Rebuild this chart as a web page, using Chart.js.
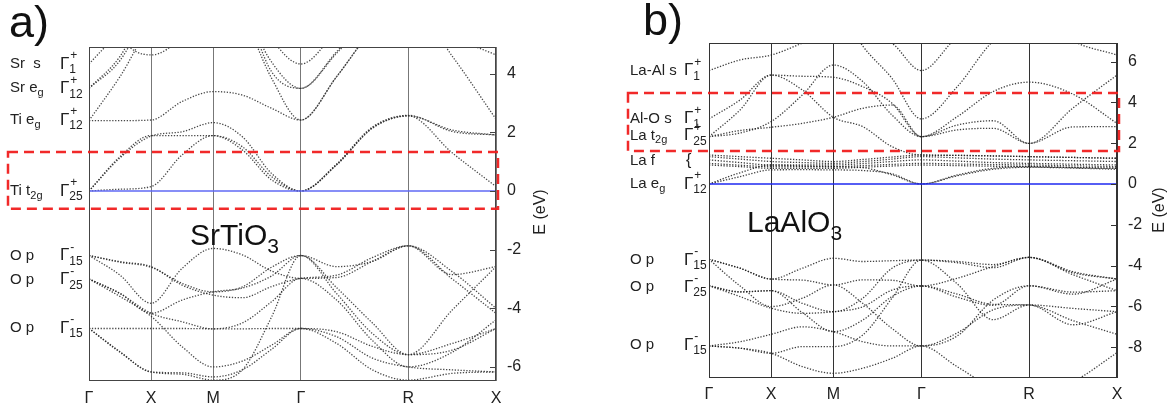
<!DOCTYPE html>
<html>
<head>
<meta charset="utf-8">
<script src="https://cdn.jsdelivr.net/npm/chart.js@4.4.1/dist/chart.umd.min.js"></script>
<style>
  body { margin: 0; background: #fff; width: 1174px; height: 410px; position: relative; overflow: hidden;
         font-family: "Liberation Sans", Arial, sans-serif; color: #111; }
  canvas { position: absolute; top: 0; }
  #chartA { left: 0; }
  #chartB { left: 587px; }
  .tag { position: absolute; font-size: 45px; line-height: 1; }
  .mat { position: absolute; font-size: 30px; line-height: 1; }
  .mat sub { font-size: 21px; vertical-align: -8px; line-height: 0; }
</style>
</head>
<body>
<canvas id="chartA" width="587" height="410"></canvas>
<canvas id="chartB" width="587" height="410"></canvas>
<div class="tag" style="left:9px;top:-1px">a)</div>
<div class="tag" style="left:643px;top:-3px">b)</div>
<div class="mat" style="left:190px;top:220px">SrTiO<sub>3</sub></div>
<div class="mat" style="left:747px;top:207px">LaAlO<sub>3</sub></div>

<script>
// k path Γ-X-M-Γ-R-X (units of 2π/a), sampled at the symmetry points and in between
const kPos = [0, 0.25, 0.5, 0.75, 1.0, 1.236, 1.471, 1.707, 1.996, 2.284, 2.573, 2.927, 3.28];
const kTicks = [0, 0.5, 1.0, 1.707, 2.573, 3.28];
const kNames = ["Γ", "X", "M", "Γ", "R", "X"];

const eTicksA = [-6, -4, -2, 0, 2, 4];
const eTicksB = [-8, -6, -4, -2, 0, 2, 4, 6];
const eRangeA = [-6.48, 4.91];
const eRangeB = [-9.51, 6.91];
const fermiLevel = 0;

// SrTiO3 : O p valence bands (eV)
const staValence = [
  [-2.2, -2.41, -2.58, -3.21, -3.55, -3.64, -3.26, -2.98, -2.87, -2.27, -1.87, -3.0, -4.17],
  [-2.2, -2.43, -2.6, -3.15, -3.44, -3.27, -2.6, -2.2, -2.58, -2.4, -1.87, -2.75, -4.0],
  [-2.2, -2.87, -3.83, -2.64, -1.96, -2.18, -2.73, -2.98, -2.95, -2.4, -1.87, -2.85, -2.58],
  [-3.0, -3.49, -4.17, -3.72, -3.44, -3.31, -2.9, -2.2, -3.3, -4.5, -5.58, -4.06, -2.58],
  [-3.0, -3.6, -4.27, -5.31, -6.0, -5.8, -5.26, -4.69, -4.8, -5.3, -5.58, -5.43, -4.69],
  [-3.0, -3.5, -4.17, -4.46, -4.7, -4.5, -3.78, -2.98, -3.72, -5.1, -6.0, -5.5, -4.4],
  [-4.69, -4.69, -4.69, -4.69, -4.7, -4.7, -4.69, -4.69, -4.97, -5.7, -6.0, -6.1, -6.17],
  [-4.69, -5.48, -6.17, -6.2, -6.34, -6.1, -5.4, -4.69, -5.2, -6.1, -6.45, -6.22, -6.17],
  [-4.69, -5.5, -6.17, -6.25, -6.45, -6.1, -4.3, -2.2, -3.5, -4.86, -5.58, -5.2, -4.69]
];
// SrTiO3 : Ti t2g, Ti eg, Sr bands
const staConduction = [
  [0, 0.06, 0.15, 1.23, 1.89, 1.4, 0.38, 0, 0.89, 2.14, 2.56, 1.3, 0.15],
  [0, 1.17, 1.89, 1.89, 1.89, 1.51, 0.49, 0, 0.9, 2.15, 2.56, 2.08, 1.91],
  [0, 1.13, 1.87, 2.02, 2.33, 1.85, 0.6, 0, 0.92, 2.18, 2.58, 2.03, 1.91],
  [2.4, 2.4, 2.42, 3.05, 3.39, 3.27, 2.82, 2.42, 3.9, 5.5, 6.5, 4.6, 2.45],
  [2.4, 3.9, 5.6, 6.0, 7.0, 6.0, 3.85, 2.42, 3.9, 5.5, 6.5, 5.3, 4.64],
  [3.5, 4.59, 6.5, 7.5, 8, 6.5, 4.07, 3.5, 4.75, 6, 7, 7, 7],
  [3.5, 4.45, 6.3, 7.5, 8, 6.3, 4.4, 3.5, 4.7, 6, 7, 7, 7],
  [4.33, 5.5, 7, 8, 9, 7, 5.2, 4.33, 5.5, 7, 8, 8, 8],
  [8, 5.3, 4.64, 5.3, 7, 8, 8, 8, 8, 8, 8, 8, 8]
];

// LaAlO3 : O p valence bands
const laoValence = [
  [-3.69, -4.13, -4.66, -4.13, -3.64, -3.8, -3.76, -3.73, -3.86, -4.1, -3.6, -4.35, -4.66],
  [-3.69, -4.13, -4.66, -4.71, -4.95, -4.7, -4.72, -5.0, -4.62, -4.05, -3.6, -4.3, -4.66],
  [-3.69, -5.0, -6.01, -5.6, -4.95, -5.85, -7.08, -7.94, -7.3, -6.17, -5.93, -6.9, -6.26],
  [-4.99, -5.28, -5.23, -5.85, -6.26, -5.6, -4.13, -3.73, -3.8, -3.95, -3.6, -4.45, -5.23],
  [-4.99, -5.52, -6.09, -6.34, -6.26, -6.02, -5.2, -5.0, -5.4, -5.9, -5.93, -6.7, -7.37],
  [-4.99, -5.3, -5.23, -6.3, -7.24, -6.67, -5.52, -5.0, -5.55, -5.95, -4.99, -5.3, -5.23],
  [-7.94, -7.73, -7.37, -7.0, -7.24, -7.73, -7.94, -7.94, -7.45, -5.69, -4.99, -5.4, -4.66],
  [-7.94, -8.05, -8.3, -7.97, -7.97, -7.4, -5.6, -3.73, -4.9, -6.65, -5.93, -6.1, -6.26],
  [-7.94, -8.05, -8.3, -8.95, -9.28, -9.03, -8.55, -7.94, -8.96, -10, -10.5, -9.7, -8.27]
];
// LaAlO3 : La f and La eg
const laoLaF = [
  [1.42, 1.34, 1.26, 1.18, 1.1, 1.2, 1.32, 1.42, 1.4, 1.37, 1.34, 1.3, 1.26],
  [1.34, 1.22, 1.1, 1.05, 1.01, 1.1, 1.22, 1.34, 1.28, 1.22, 1.18, 1.14, 1.1],
  [1.18, 1.05, 0.93, 0.93, 0.93, 1.0, 1.1, 1.18, 1.12, 1.05, 1.01, 0.97, 0.93],
  [1.01, 0.92, 0.85, 0.85, 0.85, 0.9, 0.96, 1.01, 0.98, 0.95, 0.93, 0.89, 0.85],
  [0.93, 0.85, 0.77, 0.77, 0.77, 0.82, 0.88, 0.93, 0.9, 0.87, 0.85, 0.81, 0.77],
  [0, 0.36, 0.69, 0.7, 0.69, 0.66, 0.5, 0, 0.44, 0.77, 0.85, 0.8, 0.77],
  [0, 0.55, 0.93, 0.88, 0.85, 0.8, 0.45, 0, 0.4, 0.72, 0.82, 0.78, 0.72]
];
// LaAlO3 : La t2g, Al-O s, La-Al s
const laoConduction = [
  [5.56, 6.08, 6.32, 6.9, 7.5, 7.5, 6.9, 5.56, 7.2, 8, 8.5, 7.0, 6.32],
  [3.19, 4.12, 5.34, 4.61, 3.27, 2.81, 1.83, 1.42, 1.4, 1.38, 1.34, 1.3, 1.26],
  [2.32, 3.63, 5.34, 5.28, 5.23, 4.77, 3.96, 2.32, 2.89, 3.1, 1.99, 2.8, 2.81],
  [2.32, 2.62, 2.78, 2.97, 3.27, 3.71, 3.87, 2.32, 2.65, 2.73, 1.99, 3.73, 5.34],
  [2.32, 2.5, 3.06, 4.36, 5.83, 5.02, 3.38, 2.32, 3.3, 4.53, 4.99, 4.4, 2.97],
  [9, 9, 9, 9, 9, 6.76, 5.18, 3.19, 4.77, 7, 8, 8, 8]
];

// labels at Γ : character, energy, irreducible representation
const staRows = [
  { name: "Sr  s", e: 4.33, g: "1", s: "+" },
  { name: "Sr e", sub: "g", e: 3.5, g: "12", s: "+" },
  { name: "Ti e", sub: "g", e: 2.42, g: "12", s: "+" },
  { name: "Ti t", sub: "2g", e: 0, g: "25", s: "+" },
  { name: "O p", e: -2.2, g: "15", s: "-" },
  { name: "O p", e: -3.02, g: "25", s: "-" },
  { name: "O p", e: -4.67, g: "15", s: "-" }
];
const laoRows = [
  { name: "La-Al s", e: 5.56, g: "1", s: "+" },
  { name: "Al-O s", e: 3.2, g: "1", s: "+" },
  { name: "La t", sub: "2g", e: 2.38, g: "25", s: "+" },
  { name: "La f", e: 1.13, mark: "{" },
  { name: "La e", sub: "g", e: 0, g: "12", s: "+" },
  { name: "O p", e: -3.73, g: "15", s: "-" },
  { name: "O p", e: -5.05, g: "25", s: "-" },
  { name: "O p", e: -7.9, g: "15", s: "-" }
];

const FONT = '"Liberation Sans", Arial, sans-serif';

const bandDecor = {
  id: "bandDecor",
  afterDraw(chart, args, o) {
    const { ctx, chartArea: a } = chart;
    const ys = chart.scales.y;
    ctx.save();
    // frame + inward ticks on the energy axis
    ctx.strokeStyle = o.frameColor;
    ctx.lineWidth = 1;
    ctx.strokeRect(a.left + 0.5, a.top + 0.5, a.right - a.left - 1, a.bottom - a.top - 1);
    ys.ticks.forEach(t => {
      const py = Math.round(ys.getPixelForValue(t.value)) + 0.5;
      ctx.beginPath();
      ctx.moveTo(a.right - 6, py);
      ctx.lineTo(a.right, py);
      ctx.stroke();
    });

    // band characters
    ctx.fillStyle = "#222";
    ctx.textAlign = "left";
    ctx.textBaseline = "middle";
    o.rows.forEach(r => {
      const py = ys.getPixelForValue(r.e);
      ctx.font = "15px " + FONT;
      ctx.fillText(r.name, o.nameX, py);
      if (r.sub) {
        const w = ctx.measureText(r.name).width;
        ctx.font = "11px " + FONT;
        ctx.fillText(r.sub, o.nameX + w, py + 5);
      }
      if (r.mark) {
        ctx.font = "16px " + FONT;
        ctx.fillText(r.mark, o.gX + 2, py);
        return;
      }
      ctx.font = "17px " + FONT;
      ctx.fillText("Γ", o.gX, py);
      const gw = ctx.measureText("Γ").width;
      ctx.font = "12px " + FONT;
      ctx.fillText(r.g, o.gX + gw, py + 6);
      ctx.fillText(r.s, o.gX + gw + 1, py - 8);
    });

    // axis title
    ctx.save();
    ctx.translate(o.titleX, o.titleY);
    ctx.rotate(-Math.PI / 2);
    ctx.textAlign = "center";
    ctx.font = "16px " + FONT;
    ctx.fillText("E (eV)", 0, 0);
    ctx.restore();

    // red dashed box
    const top = ys.getPixelForValue(o.box.eTop);
    const bot = ys.getPixelForValue(o.box.eBottom);
    ctx.strokeStyle = "rgba(240,30,30,0.95)";
    ctx.lineWidth = 2.5;
    ctx.setLineDash([10, 6]);
    ctx.strokeRect(o.box.left, top, a.right + 2 - o.box.left, bot - top);
    ctx.restore();
  }
};

function bandChart(canvasId, cfg) {
  const datasets = [{
    data: [{ x: kTicks[0], y: fermiLevel }, { x: kTicks[kTicks.length - 1], y: fermiLevel }],
    borderColor: cfg.fermiColor,
    borderWidth: 1.3,
    pointRadius: 0
  }];
  cfg.bands.forEach(b => {
    datasets.push({
      data: b.map((e, i) => ({ x: kPos[i], y: e })),
      borderColor: cfg.bandColor,
      borderWidth: 1.3,
      borderDash: [1.3, 1.6],
      pointRadius: 0,
      cubicInterpolationMode: "monotone",
      capBezierPoints: false,
      fill: false
    });
  });

  return new Chart(document.getElementById(canvasId), {
    type: "line",
    data: { datasets: datasets },
    options: {
      responsive: false,
      animation: false,
      layout: { padding: cfg.padding },
      plugins: {
        legend: { display: false },
        tooltip: { enabled: false },
        bandDecor: cfg.decor
      },
      scales: {
        x: {
          type: "linear",
          min: kTicks[0],
          max: kTicks[kTicks.length - 1],
          afterBuildTicks: s => { s.ticks = kTicks.map(v => ({ value: v })); },
          afterFit: s => { s.height = 25; },
          grid: { color: cfg.lineColor, drawTicks: false },
          border: { display: false },
          ticks: {
            padding: cfg.xPad,
            autoSkip: false,
            maxRotation: 0,
            color: "#222",
            font: { size: 16, family: FONT },
            callback: (v, i) => kNames[i]
          }
        },
        y: {
          position: "right",
          min: cfg.range[0],
          max: cfg.range[1],
          afterBuildTicks: s => { s.ticks = cfg.eTicks.map(v => ({ value: v })); },
          afterFit: s => { s.width = 45; },
          grid: { display: false, drawTicks: false },
          border: { display: false },
          ticks: { padding: 11, color: "#222", font: { size: 16, family: FONT } }
        }
      }
    },
    plugins: [bandDecor]
  });
}

bandChart("chartA", {
  bands: staValence.concat(staConduction),
  range: eRangeA,
  eTicks: eTicksA,
  bandColor: "rgba(40,40,40,0.85)",
  fermiColor: "rgb(95,105,245)",
  lineColor: "#777",
  xPad: 8,
  padding: { left: 89, right: 46, top: 47, bottom: 4 },
  decor: {
    frameColor: "#444",
    rows: staRows, nameX: 10, gX: 60,
    titleX: 541, titleY: 212,
    box: { left: 8, eTop: 1.33, eBottom: -0.61 }
  }
});

bandChart("chartB", {
  bands: laoValence.concat(laoLaF, laoConduction),
  range: eRangeB,
  eTicks: eTicksB,
  bandColor: "rgba(30,30,30,0.85)",
  fermiColor: "rgb(30,40,240)",
  lineColor: "#333",
  xPad: 7,
  padding: { left: 122, right: 12, top: 43, bottom: 7 },
  decor: {
    frameColor: "#333",
    rows: laoRows, nameX: 43, gX: 97,
    titleX: 573, titleY: 210,
    box: { left: 41, eTop: 4.46, eBottom: 1.62 }
  }
});
</script>
</body>
</html>
